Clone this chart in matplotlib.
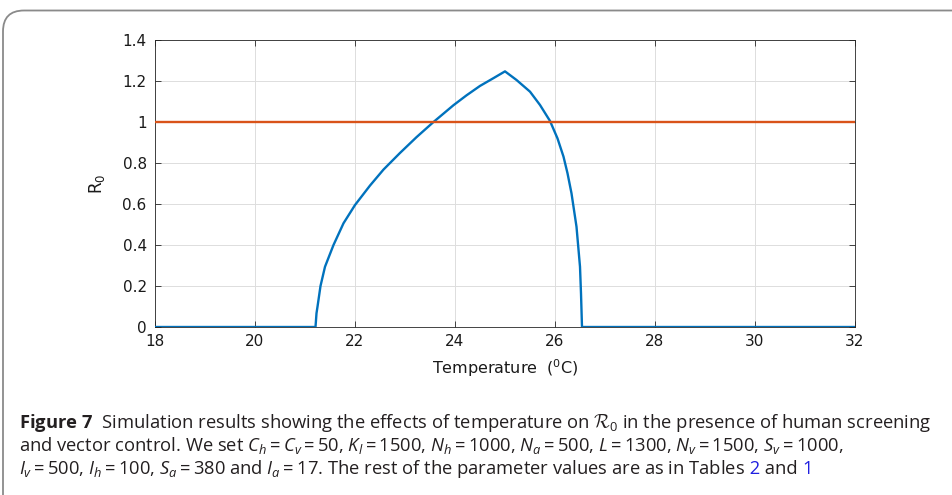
import matplotlib
matplotlib.use("Agg")
import matplotlib.pyplot as plt
from matplotlib.patches import FancyBboxPatch

# ---------------- data ----------------
temperature = [18.0, 21.21, 21.23, 21.25, 21.31, 21.40, 21.57, 21.77, 22.0, 22.3,
               22.57, 22.9, 23.23, 23.57, 23.97, 24.23, 24.5, 24.77, 25.0, 25.23,
               25.5, 25.7, 25.9, 26.05, 26.17, 26.25, 26.33, 26.43, 26.5, 26.52,
               26.54, 32.0]
r0_values = [0.0, 0.0, 0.067, 0.099, 0.2, 0.294, 0.4, 0.506, 0.595, 0.69,
             0.768, 0.849, 0.926, 1.0, 1.082, 1.13, 1.176, 1.214, 1.247, 1.205,
             1.148, 1.083, 1.005, 0.92, 0.831, 0.75, 0.652, 0.489, 0.294, 0.164,
             0.0, 0.0]
threshold_T = [18.0, 32.0]
threshold_R = [1.0, 1.0]
xticks = [18, 20, 22, 24, 26, 28, 30, 32]
yticks = [0, 0.2, 0.4, 0.6, 0.8, 1.0, 1.2, 1.4]
ytick_labels = ["0", "0.2", "0.4", "0.6", "0.8", "1", "1.2", "1.4"]

W, H = 953, 495
fig = plt.figure(figsize=(W / 100, H / 100), dpi=100)

plt.rcParams['mathtext.fontset'] = 'custom'
plt.rcParams['mathtext.rm'] = 'Open Sans'
plt.rcParams['mathtext.it'] = 'Open Sans:italic'
plt.rcParams['mathtext.bf'] = 'Open Sans:bold'
plt.rcParams['mathtext.cal'] = 'cmsy10'

# border box (rounded, clipped at right/bottom)
box = FancyBboxPatch((3 / W, -0.2), 1.2, (H - 10.5) / H + 0.2,
                     boxstyle="round,pad=0,rounding_size=0.022",
                     transform=fig.transFigure, fill=False,
                     edgecolor="#8a8a8a", linewidth=1.3, mutation_aspect=W / H)
fig.patches.append(box)

ax = fig.add_axes([155 / W, 1 - 327 / H, 700 / W, 287 / H])
spine_c = "#262626"
ax.plot(temperature, r0_values, color="#0072BD", linewidth=1.7, zorder=3,
        solid_joinstyle="round")
ax.plot(threshold_T, threshold_R, color="#D95319", linewidth=1.7, zorder=3)
ax.set_xlim(18, 32)
ax.set_ylim(0, 1.4)
ax.set_xticks(xticks)
ax.set_yticks(yticks)
ax.set_yticklabels(ytick_labels)
ax.grid(True, color="#dddddd", linewidth=0.7)
ax.set_axisbelow(True)
for s in ax.spines.values():
    s.set_color(spine_c)
    s.set_linewidth(0.6)
ax.tick_params(direction="in", length=4, width=0.6, color=spine_c,
               top=True, right=True, labelsize=11, labelcolor="#1a1a1a")
ax.tick_params(axis="x", pad=5)
ax.tick_params(axis="y", pad=6)
ax.set_xlabel(r"Temperature  ($^{0}$C)", fontsize=11.5, color="#1a1a1a",
              math_fontfamily="dejavusans")
ax.xaxis.set_label_coords(0.5, -0.105)
ax.set_ylabel(r"R$_0$", fontsize=12, color="#1a1a1a", math_fontfamily="dejavusans")
ax.yaxis.set_label_coords(-0.069, 0.5)

# ---------------- caption ----------------
cap_c = "#231f20"
link_c = "#2020e0"
line1 = (r"$\mathbf{Figure\ 7}$  Simulation results showing the effects of temperature on "
         r"$\mathcal{R}_0$ in the presence of human screening")
line2 = (r"and vector control. We set $C_h = C_v = 50$, $K_l = 1500$, $N_h = 1000$, "
         r"$N_a = 500$, $L = 1300$, $N_v = 1500$, $S_v = 1000$,")
line3_parts = [
    (r"$I_v = 500$, $I_h = 100$, $S_a = 380$ and $I_a = 17$. The rest of the parameter values are as in Tables", cap_c),
    (" 2", link_c),
    (" and ", cap_c),
    ("1", link_c),
]

x0 = 19
fs = 13.0
t1 = fig.text(x0 / W, 1 - 428 / H, line1, fontsize=fs, family="Open Sans", color=cap_c, va="baseline")
fig.canvas.draw()
r = fig.canvas.get_renderer()
w = t1.get_window_extent(r).width
fs = fs * 911.0 / w
t1.set_fontsize(fs)
fig.text(x0 / W, 1 - 451 / H, line2, fontsize=fs, family="Open Sans", color=cap_c, va="baseline")

xpos = x0
for txt, col in line3_parts:
    t = fig.text(xpos / W, 1 - 474 / H, txt, fontsize=fs, family="Open Sans", color=col, va="baseline")
    fig.canvas.draw()
    bb = t.get_window_extent(fig.canvas.get_renderer())
    xpos = bb.x1

fig.savefig("out.png", dpi=100)
